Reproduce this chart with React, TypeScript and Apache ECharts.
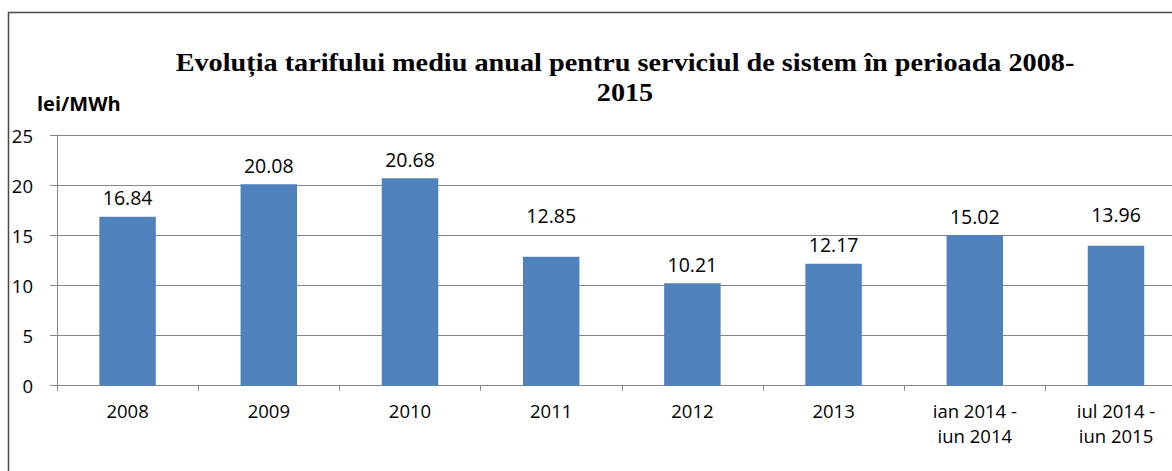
import React, { useEffect, useRef } from "react";
import * as echarts from "echarts";

const categories = ["2008", "2009", "2010", "2011", "2012", "2013", "ian 2014 -\niun 2014", "iul 2014 -\niun 2015"];
const values = [16.84, 20.08, 20.68, 12.85, 10.21, 12.17, 15.02, 13.96];
const yTicks = { min: 0, max: 25, interval: 5 };
const titleText = "Evoluția tarifului mediu anual pentru serviciul de sistem în perioada 2008-\n2015";
const unitText = "lei/MWh";
// manual label nudges (px, upward) as in the original
const labelLift = [0, 0, 0, 22, 0, 0, 0, 12];

const FONT = "'Open Sans', 'Liberation Sans', sans-serif";

export default function App() {
  const ref = useRef<HTMLDivElement>(null);
  useEffect(() => {
    if (!ref.current) return;
    const chart = echarts.init(ref.current, null, { renderer: "svg" });
    chart.setOption({
      animation: false,
      backgroundColor: "#ffffff",
      grid: { left: 57, right: 53.4, top: 135, bottom: 85.3, containLabel: false, outerBoundsMode: "none" },
      graphic: [
        {
          type: "rect",
          shape: { x: 8.5, y: 12.5, width: 1400, height: 600 },
          style: { fill: "none", stroke: "#4a4a4a", lineWidth: 1.5 },
          silent: true,
        },
        {
          type: "text",
          x: 625,
          y: 48,
          scaleX: 1.13,
          style: {
            text: titleText,
            align: "center",
            verticalAlign: "top",
            fontFamily: "'Liberation Serif', 'Times New Roman', serif",
            fontWeight: "bold",
            fontSize: 25,
            lineHeight: 30,
            fill: "#000",
          },
        },
        {
          type: "text",
          x: 37,
          y: 103,
          style: {
            text: unitText,
            align: "left",
            verticalAlign: "middle",
            fontFamily: FONT,
            fontWeight: "bold",
            fontSize: 20,
            fill: "#000",
          },
        },
      ],
      xAxis: {
        type: "category",
        data: categories,
        axisLine: { show: true, lineStyle: { color: "#868686", width: 1 } },
        axisTick: { show: true, length: 5, lineStyle: { color: "#868686" } },
        axisLabel: { interval: 0, margin: 12, fontFamily: FONT, fontSize: 18.5, lineHeight: 25, color: "#000" },
        splitLine: { show: false },
      },
      yAxis: {
        type: "value",
        min: yTicks.min,
        max: yTicks.max,
        interval: yTicks.interval,
        axisLine: { show: true, lineStyle: { color: "#868686", width: 1 } },
        axisTick: { show: true, length: 7, lineStyle: { color: "#868686" } },
        axisLabel: { margin: 24, fontFamily: FONT, fontSize: 18.5, color: "#000" },
        splitLine: { show: true, lineStyle: { color: "#868686", width: 1 } },
      },
      series: [
        {
          type: "bar",
          barWidth: "40%",
          itemStyle: { color: "#4F81BD" },
          data: values.map((v, i) => ({
            value: v,
            label: labelLift[i] ? { offset: [0, -labelLift[i]] } : undefined,
          })),
          label: {
            show: true,
            position: "top",
            distance: 9,
            fontFamily: FONT,
            fontSize: 19.5,
            color: "#000",
            formatter: (p: any) => Number(p.value).toFixed(2),
          },
        },
      ],
    });
    return () => chart.dispose();
  }, []);
  return (
    <div style={{ position: "fixed", left: 0, top: 0, width: 1172, height: 471, overflow: "hidden", background: "#fff" }}>
      <div ref={ref} style={{ width: 1240, height: 471 }} />
    </div>
  );
}
